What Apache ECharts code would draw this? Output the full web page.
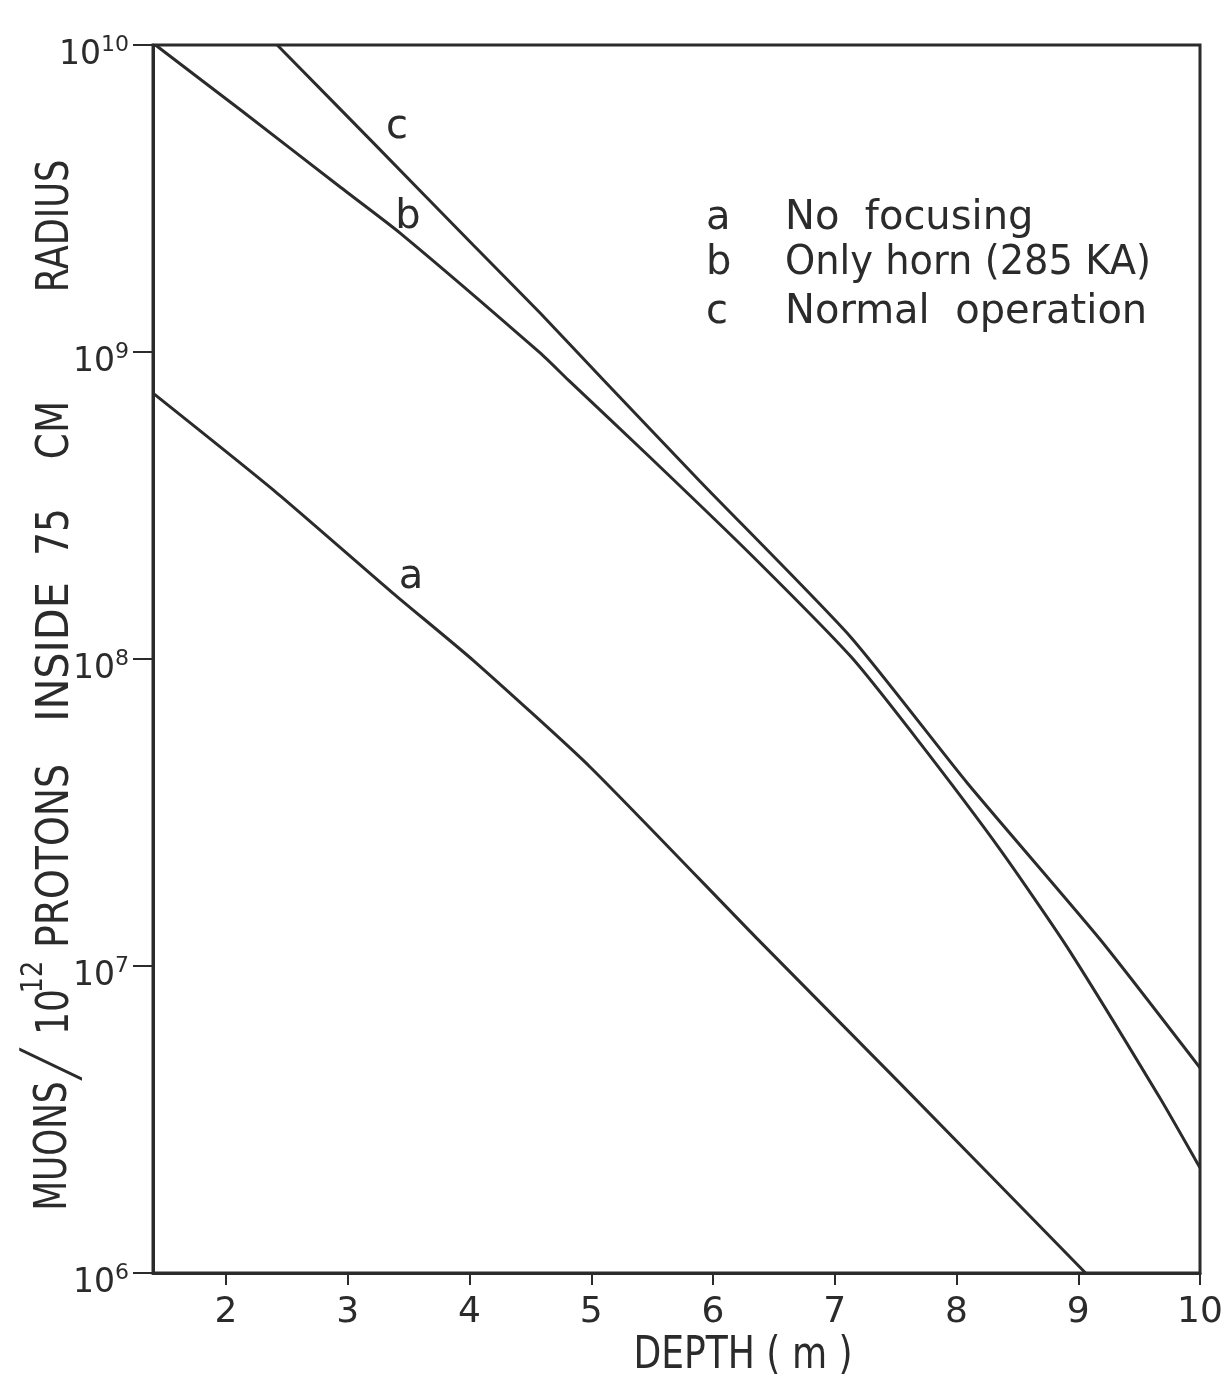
<!DOCTYPE html>
<html>
<head>
<meta charset="utf-8">
<script src="https://cdn.jsdelivr.net/npm/echarts@6/dist/echarts.min.js"></script>
<style>
html,body{margin:0;padding:0;background:#fff;}
#chart{width:1232px;height:1381px;}
</style>
</head>
<body>
<div id="chart"></div>
<script>
// ---- data ----
const xTicks = [2, 3, 4, 5, 6, 7, 8, 9, 10];

// a : no focusing
const depthA = [1.40, 2.39, 3.37, 4.03, 4.99, 6.36, 7.50, 9.06];
const muonsA = [7.35e8, 3.55e8, 1.64e8, 9.9e7, 4.45e7, 1.23e7, 4.29e6, 1.0e6];

// b : only horn (285 KA)
const depthB = [1.42, 2.12, 2.94, 3.43, 4.58, 4.81, 5.48, 6.30, 7.13, 7.68, 8.36, 8.91, 9.67, 10.0];
const muonsB = [1.0e10, 6.14e9, 3.44e9, 2.44e9, 9.93e8, 8.11e8, 4.55e8, 2.21e8, 1.02e8, 5.45e7, 2.39e7, 1.15e7, 3.72e6, 2.2e6];

// c : normal operation
const depthC = [2.42, 3.21, 4.03, 4.58, 5.10, 5.89, 7.13, 8.09, 9.18, 10.0];
const muonsC = [1.0e10, 4.80e9, 2.23e9, 1.34e9, 8.11e8, 3.80e8, 1.18e8, 3.94e7, 1.22e7, 4.66e6];

const legendKeys = ['a', 'b', 'c'];
const legendTexts = ['No  focusing', 'Only horn (285 KA)', 'Normal  operation'];

// ---- chart ----
const FONT = 'DejaVu Sans';
const INK = '#2b2b2b';
const pairs = (xs, ys) => xs.map((x, i) => [x, ys[i]]);

const chart = echarts.init(document.getElementById('chart'), null, {renderer: 'canvas'});

const lineSeries = (name, xs, ys) => ({
  name, type: 'line', smooth: 0.2, showSymbol: false, symbol: 'none',
  data: pairs(xs, ys),
  lineStyle: {color: INK, width: 3},
  clip: true, animation: false
});

// rotated y-axis title pieces
const vText = (text, x, y, font, sx, sy) => ({
  type: 'text', x, y, rotation: Math.PI / 2, scaleX: sx, scaleY: sy || 1,
  style: {text, font, fill: INK, align: 'center', verticalAlign: 'middle'}
});
const hText = (text, x, y, size, sx) => ({
  type: 'text', x, y, scaleX: sx, scaleY: 1,
  style: {text, font: size + 'px ' + FONT, fill: INK, align: 'left', verticalAlign: 'middle'}
});

const legendGraphics = [];
legendKeys.forEach((k, i) => {
  const y = [219, 264, 313][i];
  legendGraphics.push(hText(k, 706, y, 40, 1));
  legendGraphics.push(hText(legendTexts[i], 785, y, 40, i === 1 ? 0.96 : 1));
});

const F44 = '44px ' + FONT;

chart.setOption({
  backgroundColor: '#fff',
  animation: false,
  grid: {left: 153, right: 32, top: 45, bottom: 108, show: true,
         borderColor: INK, borderWidth: 3, backgroundColor: 'transparent'},
  xAxis: {
    type: 'value', min: 1.4, max: 10,
    axisLine: {show: true, lineStyle: {color: INK, width: 3}},
    axisTick: {show: true, length: 12, inside: false, customValues: xTicks,
               lineStyle: {color: INK, width: 2}},
    axisLabel: {customValues: xTicks, margin: 22, color: INK,
                fontFamily: FONT, fontSize: 36},
    splitLine: {show: false}
  },
  yAxis: {
    type: 'log', logBase: 10, min: 1e6, max: 1e10, interval: 1,
    axisLine: {show: true, lineStyle: {color: INK, width: 3}},
    axisTick: {show: true, length: 20, lineStyle: {color: INK, width: 2}},
    axisLabel: {
      margin: 24, color: INK, padding: [16, 0, 0, 0],
      formatter: v => '{b|10}{e|' + Math.round(Math.log10(v)) + '}',
      rich: {
        b: {fontFamily: FONT, fontSize: 33, color: INK, lineHeight: 38, verticalAlign: 'bottom'},
        e: {fontFamily: FONT, fontSize: 22, color: INK, lineHeight: 38, verticalAlign: 'top'}
      }
    },
    splitLine: {show: false}
  },
  series: [
    lineSeries('a', depthA, muonsA),
    lineSeries('b', depthB, muonsB),
    lineSeries('c', depthC, muonsC)
  ],
  graphic: [
    {type: 'text', x: 397, y: 128, style: {text: 'c', font: '40px ' + FONT, fill: INK, align: 'center', verticalAlign: 'middle'}},
    {type: 'text', x: 408, y: 218, style: {text: 'b', font: '40px ' + FONT, fill: INK, align: 'center', verticalAlign: 'middle'}},
    {type: 'text', x: 411, y: 578, style: {text: 'a', font: '40px ' + FONT, fill: INK, align: 'center', verticalAlign: 'middle'}},
    ...legendGraphics,
    {type: 'text', x: 743, y: 1357, scaleX: 0.82,
     style: {text: 'DEPTH ( m )', font: F44, fill: INK, align: 'center', verticalAlign: 'middle'}},
    vText('MUONS', 55, 1146, F44, 0.78),
    vText('/', 52, 1064, '100 80px Inter', 1.6, 0.9),
    vText('10', 57, 1012, F44, 0.82),
    vText('12', 34, 977, '30px ' + FONT, 0.85),
    vText('PROTONS', 57, 856, F44, 0.86),
    vText('INSIDE', 57, 652, F44, 0.94),
    vText('75', 57, 532, F44, 0.85),
    vText('CM', 57, 430, F44, 0.85),
    vText('RADIUS', 57, 226, F44, 0.8)
  ]
});
</script>
</body>
</html>
